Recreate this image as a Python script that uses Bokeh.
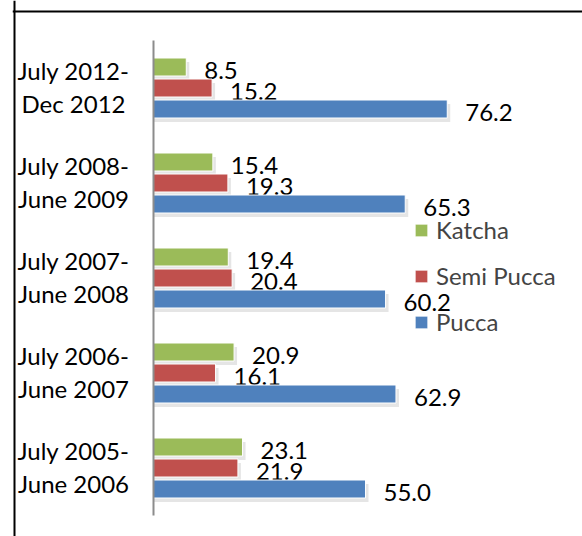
from bokeh.plotting import figure
from bokeh.models import (Range1d, LinearAxis, FixedTicker, ColumnDataSource,
                          Legend, LegendItem, Span)
from bokeh.transform import dodge
from bokeh.core.properties import value
from bokeh.embed import file_html
from bokeh.resources import INLINE

# ---------------- data ----------------
periods = ["July 2012-\nDec 2012", "July 2008-\nJune 2009", "July 2007-\nJune 2008",
           "July 2006-\nJune 2007", "July 2005-\nJune 2006"]
katcha = [8.5, 15.4, 19.4, 20.9, 23.1]
semi_pucca = [15.2, 19.3, 20.4, 16.1, 21.9]
pucca = [76.2, 65.3, 60.2, 62.9, 55.0]
series_names = ["Katcha", "Semi Pucca", "Pucca"]

# ---------------- layout constants ----------------
W, H = 582, 536
BL, BT = 12, 0                # frame offset in canvas
PX_PER_X = 3.855              # px per value unit
PX_PER_GROUP = 95.0           # px per category
AXIS_X = 141.0                # axis position from frame left (px)
GROUP0_Y = 87.5               # centre of first group from frame top (px)
frame_w = W - BL
frame_h = H - BT

x0 = -AXIS_X / PX_PER_X
x1 = x0 + frame_w / PX_PER_X
y_top = -GROUP0_Y / PX_PER_GROUP
y_bot = y_top + frame_h / PX_PER_GROUP

FONT = "Lato"
FS = "24px"
colors = ["#9BBB59", "#C0504D", "#4F81BD"]

idx = list(range(len(periods)))
src = ColumnDataSource(dict(y=idx, period=periods, katcha=katcha, semi=semi_pucca, pucca=pucca,
                            katcha_t=[f"{v:.1f}" for v in katcha],
                            semi_t=[f"{v:.1f}" for v in semi_pucca],
                            pucca_t=[f"{v:.1f}" for v in pucca]))

p = figure(width=W, height=H, output_backend="svg", toolbar_location=None,
           x_axis_location=None, y_axis_location=None,
           x_range=Range1d(x0, x1), y_range=Range1d(y_bot, y_top),
           min_border_left=BL, min_border_top=BT, min_border_right=0, min_border_bottom=0)
p.grid.visible = False
p.outline_line_color = None
p.background_fill_color = "white"
p.border_fill_color = "white"

# chart border (left and top; right/bottom lie outside the picture)
p.add_layout(Span(location=x0 + 2 / PX_PER_X, dimension="height",
                  line_color="black", line_width=2))
p.add_layout(Span(location=y_top + 11 / PX_PER_GROUP, dimension="width",
                  line_color="black", line_width=2))

bar_h = 18 / PX_PER_GROUP
off = 21 / PX_PER_GROUP
sh_dy = 4 / PX_PER_GROUP
sh_dx = 3 / PX_PER_X

renderers = []
for col, tcol, o, c in zip(["katcha", "semi", "pucca"], ["katcha_t", "semi_t", "pucca_t"],
                           [-off, 0, off], colors):
    # soft shadow
    p.hbar(y=dodge("y", o + sh_dy, range=p.y_range), left=0,
           right=dodge(col, sh_dx, range=p.x_range), height=bar_h, source=src,
           fill_color="#000000", fill_alpha=0.10, line_color=None)
    r = p.hbar(y=dodge("y", o, range=p.y_range), left=0, right=col, height=bar_h,
               source=src, fill_color=c, line_color="white", line_width=1)
    renderers.append(r)
    p.text(x=col, y=dodge("y", o, range=p.y_range), text=tcol, source=src,
           x_offset=18, y_offset=3, text_align="left", text_baseline="middle",
           text_font=value(FONT), text_font_size=FS, text_color="black")

# category labels
p.text(x=0, y="y", text="period", source=src, x_offset=-80, y_offset=-1,
       text_align="center", text_baseline="middle", text_font=value(FONT),
       text_font_size=FS, text_line_height=1.16, text_color="black")

# vertical axis line at x = 0
yaxis = LinearAxis(fixed_location=0, ticker=FixedTicker(ticks=[]),
                   bounds=(-0.5, len(periods) - 0.5),
                   axis_line_color="#8C8C8C", axis_line_width=2,
                   major_tick_line_color=None, minor_tick_line_color=None,
                   major_label_text_font_size="0px")
p.add_layout(yaxis, "left")

legend = Legend(items=[LegendItem(label=n, renderers=[r]) for n, r in zip(series_names, renderers)],
                location=(401, 200), orientation="vertical",
                glyph_width=16, glyph_height=16, label_height=16, spacing=17,
                padding=0, margin=0, label_standoff=7,
                label_text_font=FONT, label_text_font_size=FS,
                background_fill_alpha=0, border_line_color=None)
p.add_layout(legend)

open("out.html", "w").write(file_html(p, INLINE))
